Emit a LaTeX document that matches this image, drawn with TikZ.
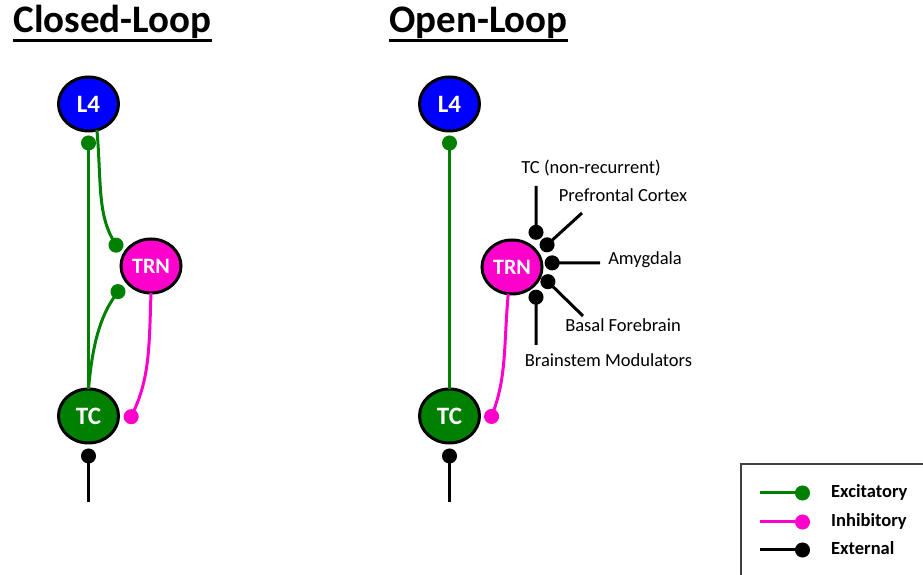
\documentclass[tikz,border=0pt]{standalone}
\usepackage{fontspec}
\setmainfont{Carlito}
\usetikzlibrary{arrows.meta, shapes.geometric}

\definecolor{l4blue}{RGB}{0,0,255}
\definecolor{tcgreen}{RGB}{0,128,0}
\definecolor{trnpink}{RGB}{255,0,204}

\begin{document}
\begin{tikzpicture}[
        x=1pt, y=1pt,
        cell/.style={ellipse, draw, line width=3pt, minimum width=60pt, minimum height=54pt, inner sep=0pt, outer sep=0pt, text=white, font=\bfseries\fontsize{25}{30}\selectfont},
        title/.style={inner sep=0pt, anchor=base, font=\bfseries\fontsize{39}{47}\selectfont},
        uline/.style={line width=3.5pt},
        lbl/.style={inner sep=0pt, anchor=base, font=\fontsize{18.5}{22}\selectfont},
        key/.style={inner sep=0pt, anchor=base west, font=\bfseries\fontsize{18.5}{22}\selectfont},
        syn/.style={line width=3pt, -{Circle[length=15pt]}, shorten >=4.5pt},
        exc/.style={syn, tcgreen},
        inh/.style={syn, trnpink},
        ext/.style={syn, black}
    ]
    \useasboundingbox (0,0) rectangle (923,575);

    % closed loop
    \node[title] (ttlc) at (112.5,542.5) {Closed-Loop};
    \draw[uline] ([yshift=-8pt]ttlc.base west) -- ([yshift=-8pt]ttlc.base east);

    \node[cell, fill=l4blue] (l4c) at (88.5,471) {L4};
    \node[cell, fill=trnpink, font=\bfseries\fontsize{22}{26}\selectfont] (trnc) at (151,309) {TRN};
    \node[cell, fill=tcgreen] (tcc) at (88.5,159) {TC};
    \coordinate (tcinc) at (88.5,73);

    \draw[exc] (tcc) -- (l4c);
    \draw[exc, shorten >=6pt] (l4c.-72) to[out=-85, in=120] (trnc.162);
    \draw[exc, shorten >=6pt] (tcc.north) to[out=85, in=235] (trnc.210);
    \draw[inh, shorten >=0pt] (trnc.south) to[out=-92, in=65] ([shift={(9.5,-7.5)}]tcc.east);
    \draw[ext, shorten >=5.5pt] (tcinc) -- (tcc);

    % open loop
    \node[title] (ttlo) at (478.5,542.5) {Open-Loop};
    \draw[uline] ([yshift=-8pt]ttlo.base west) -- ([yshift=-8pt]ttlo.base east);

    \node[cell, fill=l4blue] (l4o) at (449.5,471) {L4};
    \node[cell, fill=trnpink, font=\bfseries\fontsize{22}{26}\selectfont] (trno) at (512,308) {TRN};
    \node[cell, fill=tcgreen] (tco) at (449.5,159) {TC};
    \coordinate (tcino) at (449.5,73);

    \draw[exc] (tco) -- (l4o);
    \draw[inh, shorten >=0pt] (trno.-98) to[out=-95, in=70] ([shift={(9.5,-7.5)}]tco.east);
    \draw[ext, shorten >=5.5pt] (tcino) -- (tco);

    % inputs onto TRN
    \coordinate (nonrec) at (536,389);
    \coordinate (pfc) at (582,362);
    \coordinate (amyg) at (600,312);
    \coordinate (basal) at (583,259);
    \coordinate (brainstem) at (536,230);
    \draw[ext, shorten >=11pt] (nonrec) -- (trno.34);
    \draw[ext, shorten >=5pt] (pfc) -- (trno.28);
    \draw[ext, shorten >=3pt] (amyg) -- (trno.8);
    \draw[ext, shorten >=2.5pt] (basal) -- (trno.-15);
    \draw[ext, shorten >=6.5pt] (brainstem) -- (trno.-34);

    \node[lbl] (nonrecl) at (591,401) {TC (non-recurrent)};
    \node[lbl] (pfcl) at (623,373) {Prefrontal Cortex};
    \node[lbl] (amygl) at (645,310) {Amygdala};
    \node[lbl] (basall) at (623,243) {Basal Forebrain};
    \node[lbl] (brainsteml) at (608.5,208) {Brainstem Modulators};

    % legend
    \draw[line width=1.5pt, black!75] (923,111) -- (741,111) -- (741,0);
    \coordinate (exca) at (760,82);
    \coordinate (excb) at (810,82);
    \coordinate (inha) at (760,53);
    \coordinate (inhb) at (810,53);
    \coordinate (exta) at (760,25);
    \coordinate (extb) at (810,25);
    \draw[exc, shorten >=0pt] (exca) -- (excb);
    \draw[inh, shorten >=0pt] (inha) -- (inhb);
    \draw[ext, shorten >=0pt] (exta) -- (extb);
    \node[key] (excl) at (831,77) {Excitatory};
    \node[key] (inhl) at (831,48) {Inhibitory};
    \node[key] (extl) at (831,20) {External};
\end{tikzpicture}
\end{document}
